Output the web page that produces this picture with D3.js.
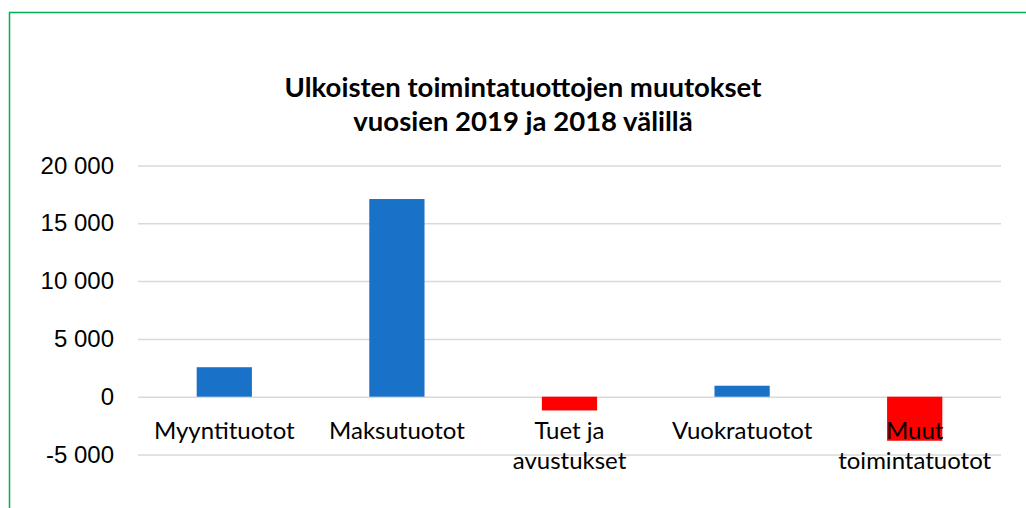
<!DOCTYPE html>
<html>
<head>
<meta charset="utf-8">
<script src="https://cdn.jsdelivr.net/npm/d3@7"></script>
<style>
  html, body { margin: 0; padding: 0; background: #fff; }
  svg { display: block; font-family: Lato, "Open Sans", sans-serif; }
  .grid line { stroke: #d9d9d9; stroke-width: 1.5; }
  .grid .domain { display: none; }
  .yaxis .domain { display: none; }
  .yaxis text { font-size: 24px; fill: #000; }
  .cat { font-size: 24px; fill: #000; }
  .title { font-size: 27.5px; font-weight: bold; fill: #000; }
</style>
</head>
<body>
<div id="chart"></div>
<script>
// data
const categories = ['Myyntituotot', 'Maksutuotot', 'Tuet ja avustukset', 'Vuokratuotot', 'Muut toimintatuotot'];
const labelLines = [['Myyntituotot'], ['Maksutuotot'], ['Tuet ja', 'avustukset'], ['Vuokratuotot'], ['Muut', 'toimintatuotot']];
const values = [2550, 17100, -1190, 950, -3810];
const yTicks = [-5000, 0, 5000, 10000, 15000, 20000];
const titleLines = ['Ulkoisten toimintatuottojen muutokset', 'vuosien 2019 ja 2018 välillä'];

const width = 1026;
const height = 508;

const fi = d3.formatLocale({ decimal: ',', thousands: ' ', grouping: [3], currency: ['', ' €'], minus: '-' });
const fmt = fi.format(',');

const svg = d3.select('#chart').append('svg')
    .attr('width', width)
    .attr('height', height);

// vihreä kehys
svg.append('rect')
    .attr('x', 9.5)
    .attr('y', 12.5)
    .attr('width', 1200)
    .attr('height', 700)
    .attr('fill', 'none')
    .attr('stroke', '#00b050')
    .attr('stroke-width', 1.5);

// otsikko
svg.append('text')
    .attr('class', 'title')
    .attr('text-anchor', 'middle')
    .selectAll('tspan')
    .data(titleLines)
    .enter().append('tspan')
    .attr('x', 523)
    .attr('y', (d, i) => 97 + i * 34)
    .text(d => d);

const plot = { left: 138, right: 1001, top: 165.5, bottom: 454.5 };

const x = d3.scaleBand()
    .domain(categories)
    .range([plot.left, plot.right])
    .paddingInner(0.68)
    .paddingOuter(0.34);

const y = d3.scaleLinear()
    .domain([-5000, 20000])
    .range([plot.bottom, plot.top]);

// ruudukko
svg.append('g')
    .attr('class', 'grid')
    .attr('transform', `translate(${plot.left},0)`)
    .call(d3.axisLeft(y).tickValues(yTicks).tickSize(-(plot.right - plot.left)).tickFormat(''));

// y-akseli
svg.append('g')
    .attr('class', 'yaxis')
    .attr('transform', 'translate(114,0)')
    .call(d3.axisLeft(y).tickValues(yTicks).tickSize(0).tickPadding(0).tickFormat(fmt))
    .selectAll('text')
    .attr('font-family', null)
    .attr('font-size', null);

// pylväät
svg.append('g')
    .selectAll('rect')
    .data(values)
    .enter().append('rect')
    .attr('x', (d, i) => x(categories[i]))
    .attr('width', x.bandwidth())
    .attr('y', d => y(Math.max(0, d)))
    .attr('height', d => Math.abs(y(d) - y(0)))
    .attr('fill', d => d >= 0 ? '#1a71c8' : '#ff0000');

// luokkien nimet
svg.append('g')
    .selectAll('text')
    .data(labelLines)
    .enter().append('text')
    .attr('class', 'cat')
    .attr('text-anchor', 'middle')
    .selectAll('tspan')
    .data((d, i) => d.map(t => ({ t, i })))
    .enter().append('tspan')
    .attr('x', d => x(categories[d.i]) + x.bandwidth() / 2)
    .attr('y', (d, j) => 439 + j * 30)
    .text(d => d.t);
</script>
</body>
</html>
